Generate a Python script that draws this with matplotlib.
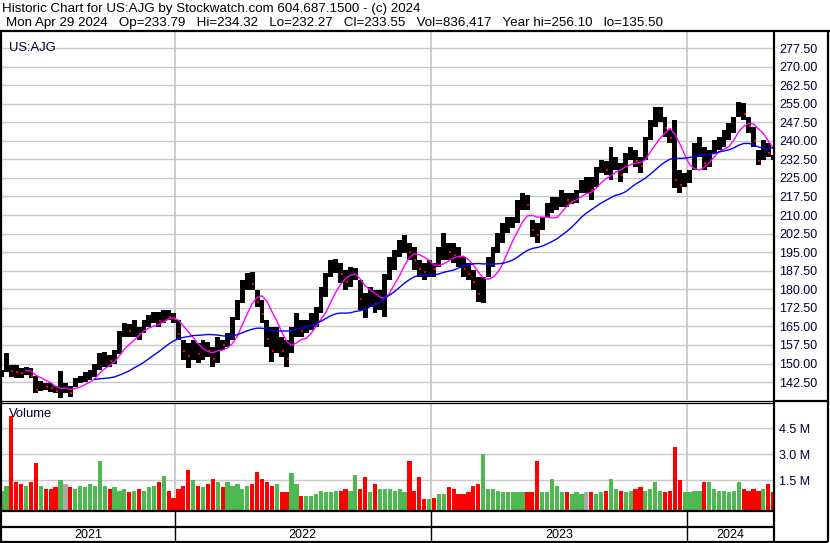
import numpy as np
import pandas as pd
import matplotlib
matplotlib.use("Agg")
import matplotlib.pyplot as plt
import matplotlib.dates as mdates
from matplotlib.lines import Line2D

plt.rcParams['font.family'] = ['Liberation Sans', 'DejaVu Sans']

# ---------------- data (weekly) ----------------
week_start = pd.date_range('2021-04-26', periods=158, freq='W-MON')

highs = [147.5, 154.3, 149.5, 149.5, 148.3, 148.7, 148.3, 145.0, 143.0, 142.0,
         142.0, 141.0, 147.0, 142.0, 141.0, 144.0, 145.0, 146.5, 147.5, 150.0,
         154.3, 154.7, 153.5, 155.5, 163.0, 166.4, 166.0, 167.6, 164.7, 167.6,
         169.6, 170.8, 170.8, 171.6, 171.6, 170.4, 167.6, 159.5, 158.3, 159.5,
         158.3, 159.5, 158.7, 156.7, 160.7, 159.5, 162.3, 168.8, 175.7, 183.7,
         186.6, 187.0, 179.7, 175.7, 167.6, 164.7, 164.7, 160.7, 159.5, 164.7,
         170.4, 167.6, 167.6, 170.4, 172.8, 180.9, 186.6, 191.8, 192.2, 190.6,
         187.8, 189.0, 188.6, 183.7, 178.5, 180.9, 179.7, 179.7, 186.0, 193.0,
         195.9, 199.9, 201.9, 198.7, 197.0, 191.8, 190.6, 191.8, 190.6, 197.0,
         202.7, 198.7, 198.7, 197.0, 193.0, 190.6, 187.8, 185.0, 185.0, 193.0,
         197.0, 202.7, 206.8, 209.2, 209.2, 216.1, 218.9, 218.0, 208.0, 206.8,
         209.2, 214.8, 217.4, 217.4, 220.1, 218.9, 218.9, 220.1, 224.2, 225.4,
         225.4, 229.4, 232.2, 231.8, 237.5, 233.5, 231.0, 235.0, 237.5, 236.3,
         233.5, 241.5, 248.4, 253.7, 253.7, 249.6, 244.4, 248.4, 228.2, 227.0,
         228.2, 239.1, 241.5, 237.5, 236.3, 240.3, 241.5, 244.4, 247.2, 249.6,
         255.7, 255.3, 249.6, 245.6, 236.3, 240.3, 239.1, 234.32]

lows = [144.5, 146.6, 144.6, 144.2, 144.2, 145.4, 144.2, 138.0, 139.0, 139.3,
        138.5, 138.0, 136.0, 138.0, 136.5, 140.5, 142.0, 142.5, 143.3, 144.6,
        147.4, 148.6, 148.6, 150.0, 154.0, 160.7, 160.7, 160.7, 159.5, 162.3,
        164.7, 166.4, 164.7, 166.4, 167.6, 166.4, 159.5, 151.4, 148.2, 151.4,
        150.2, 151.4, 152.6, 148.6, 150.2, 155.5, 156.7, 159.5, 167.6, 174.5,
        179.7, 179.7, 172.8, 166.4, 156.7, 150.6, 154.3, 152.6, 148.6, 154.3,
        160.7, 160.7, 162.3, 163.5, 164.7, 170.4, 176.9, 185.0, 186.6, 182.5,
        179.7, 180.9, 183.7, 171.6, 168.4, 172.8, 170.4, 171.6, 169.0, 183.7,
        187.8, 193.0, 194.7, 191.8, 187.8, 185.0, 183.7, 185.0, 185.0, 189.0,
        191.8, 191.8, 190.6, 189.0, 185.0, 183.7, 179.7, 174.9, 174.5, 185.0,
        189.0, 194.7, 198.7, 202.7, 204.8, 206.8, 212.0, 212.0, 201.1, 198.7,
        204.0, 209.2, 210.8, 212.0, 213.2, 213.2, 214.4, 214.8, 218.9, 218.9,
        216.1, 221.3, 226.9, 226.0, 224.2, 228.2, 223.4, 227.0, 232.2, 229.4,
        227.0, 232.2, 240.3, 245.6, 247.5, 241.5, 239.1, 221.0, 218.9, 221.3,
        223.0, 228.2, 233.5, 228.2, 229.4, 235.0, 236.3, 237.5, 240.3, 243.2,
        249.6, 248.4, 243.2, 237.5, 230.2, 232.2, 233.5, 232.27]

closes = [146.0, 150.0, 147.0, 146.5, 146.0, 147.5, 145.0, 139.5, 141.0, 140.5,
          140.0, 139.0, 140.0, 140.0, 138.0, 142.5, 143.5, 145.0, 146.0, 148.0,
          152.0, 153.0, 151.0, 154.0, 161.0, 164.0, 163.0, 164.0, 162.0, 165.0,
          168.0, 169.0, 167.0, 170.0, 169.0, 168.0, 162.0, 155.0, 153.0, 156.0,
          154.0, 156.0, 155.0, 152.0, 158.0, 157.5, 160.0, 166.0, 173.0, 180.0,
          184.0, 182.0, 175.0, 170.0, 160.0, 155.0, 162.0, 155.0, 152.0, 160.0,
          166.0, 163.0, 165.0, 167.0, 169.0, 177.0, 183.0, 188.0, 189.0, 186.0,
          183.0, 185.0, 186.0, 176.0, 172.0, 177.0, 174.0, 176.0, 183.0, 190.0,
          193.0, 197.0, 199.0, 195.0, 192.0, 188.0, 187.0, 189.0, 188.0, 194.0,
          196.0, 195.0, 194.0, 193.0, 188.0, 186.0, 183.0, 178.0, 180.0, 189.0,
          193.0, 199.0, 203.0, 206.0, 207.0, 212.0, 216.0, 214.0, 204.0, 202.0,
          207.0, 212.0, 214.0, 215.0, 217.0, 216.0, 217.0, 218.0, 222.0, 222.0,
          220.0, 226.0, 230.0, 228.0, 229.0, 231.0, 226.0, 233.0, 235.0, 232.0,
          230.0, 238.0, 245.0, 250.0, 251.0, 245.0, 241.0, 224.0, 222.0, 224.0,
          226.0, 235.0, 238.0, 231.0, 233.0, 238.0, 239.0, 241.0, 244.0, 247.0,
          253.0, 251.0, 246.0, 240.0, 232.0, 236.0, 235.0, 233.55]

volumes_m = [0.9, 1.2, 5.2, 1.4, 1.3, 1.2, 1.4, 2.5, 1.2, 1.0,
             1.0, 1.1, 1.5, 1.3, 1.1, 1.0, 1.2, 1.1, 1.3, 1.2,
             2.6, 1.2, 1.0, 1.1, 0.9, 1.0, 0.8, 0.9, 1.0, 0.9,
             1.1, 1.2, 1.4, 1.75, 0.9, 0.5, 1.0, 1.2, 2.1, 1.5,
             1.2, 1.1, 1.3, 1.6, 1.4, 1.1, 1.4, 1.2, 1.3, 1.0,
             1.2, 1.3, 2.0, 1.6, 1.4, 1.2, 1.3, 0.8, 0.8, 1.9,
             1.3, 0.6, 0.6, 0.6, 0.7, 0.9, 0.8, 0.8, 0.9, 0.9,
             1.0, 0.9, 1.8, 1.0, 1.7, 0.8, 1.3, 1.0, 1.0, 1.0,
             0.9, 1.0, 0.8, 2.6, 0.9, 1.7, 0.45, 0.45, 0.5, 0.7,
             0.7, 1.1, 1.0, 0.7, 0.7, 0.8, 1.2, 1.3, 3.0, 1.0,
             1.0, 0.9, 0.85, 0.8, 0.85, 0.8, 0.8, 0.8, 0.8, 2.6,
             0.8, 0.8, 1.6, 1.2, 0.8, 0.8, 0.7, 0.8, 0.7, 0.8,
             0.8, 0.7, 0.8, 0.9, 1.6, 1.0, 0.9, 0.8, 0.9, 1.0,
             1.1, 0.9, 1.0, 1.4, 0.9, 0.8, 0.9, 3.4, 1.5, 0.8,
             0.8, 0.9, 0.9, 1.4, 1.4, 1.0, 0.9, 0.9, 0.8, 0.9,
             1.4, 1.0, 0.9, 1.0, 0.9, 1.0, 1.3, 0.8]

price_ticks = [142.5, 150.0, 157.5, 165.0, 172.5, 180.0, 187.5, 195.0, 202.5, 210.0,
               217.5, 225.0, 232.5, 240.0, 247.5, 255.0, 262.5, 270.0, 277.5]
vol_ticks = [1.5, 3.0, 4.5]
vol_tick_labels = ['1.5 M', '3.0 M', '4.5 M']
years = [2021, 2022, 2023, 2024]

title1 = "Historic Chart for US:AJG by Stockwatch.com 604.687.1500 - (c) 2024"
title2 = ("Mon Apr 29 2024   Op=233.79   Hi=234.32   Lo=232.27   Cl=233.55   "
          "Vol=836,417   Year hi=256.10   lo=135.50")

# ---------------- figure ----------------
W, H = 830, 543
fig = plt.figure(figsize=(W / 100, H / 100), dpi=100)
fig.patch.set_facecolor('white')


def rect(x0, y0, x1, y1):
    return [x0 / W, 1 - y1 / H, (x1 - x0) / W, (y1 - y0) / H]


def fline(x0, y0, x1, y1, lw=1.0, color='black'):
    fig.add_artist(Line2D([x0 / W, x1 / W], [1 - y0 / H, 1 - y1 / H],
                          transform=fig.transFigure, lw=lw, color=color,
                          solid_capstyle='butt'))


GRID = '#c8c8c8'
NAVY = '#000033'
xlim = (mdates.date2num(pd.Timestamp('2021-04-30 05:00')),
        mdates.date2num(pd.Timestamp('2024-05-03 17:00')))

x = mdates.date2num(week_start) + 3.5
hi = np.array(highs)
lo = np.array(lows)
cl = np.array(closes)
vol = np.array(volumes_m)
chg = np.diff(cl, prepend=cl[0])

year_bounds = [mdates.date2num(pd.Timestamp(f'{y}-01-01')) for y in years[1:]]

# ---- price panel ----
ax = fig.add_axes(rect(2, 31, 774, 400))
ax.set_xlim(*xlim)
ax.set_ylim(135.26, 284.37)
for t in price_ticks:
    ax.axhline(t, color=GRID, lw=1.0, zorder=0)
for b in year_bounds:
    ax.axvline(b, color=GRID, lw=1.3, zorder=0)
ax.bar(x, hi - lo, bottom=lo, width=7.0, color='black', linewidth=0, zorder=2)
down = chg < 0
ax.plot(x[down] + 1.5, cl[down], linestyle='none', marker='s', markersize=2.0,
        color='red', markeredgewidth=0, zorder=3)
s = pd.Series(cl)
ax.plot(x, s.rolling(6).mean(), color='#ff00ff', lw=1.0, zorder=4)
ax.plot(x, s.rolling(20).mean(), color='#0000ff', lw=1.0, zorder=4)
ax.set_xticks([])
ax.yaxis.tick_right()
ax.set_yticks(price_ticks)
ax.set_yticklabels([f'{t:.2f}' for t in price_ticks])
ax.tick_params(axis='y', length=0, pad=3.8, labelsize=9, labelcolor=NAVY)
for sp in ax.spines.values():
    sp.set_visible(False)
ax.text(0.009, 0.97, 'US:AJG', transform=ax.transAxes, fontsize=9.4,
        color=NAVY, ha='left', va='top')

# ---- volume panel ----
av = fig.add_axes(rect(2, 403, 774, 510))
av.set_xlim(*xlim)
vb = -0.213
av.set_ylim(vb, 5.96)
for t in vol_ticks:
    av.axhline(t, color=GRID, lw=1.0, zorder=0)
for b in year_bounds:
    av.axvline(b, color=GRID, lw=1.3, zorder=0)
vcol = np.where(chg > 0, '#50b850', np.where(chg < 0, '#ff0000', '#aaaaaa'))
vcol[0] = '#50b850'
av.bar(x, vol - vb, bottom=vb, width=6.0, color=vcol, linewidth=0, zorder=2)
av.set_xticks([])
av.yaxis.tick_right()
av.set_yticks(vol_ticks)
av.set_yticklabels(vol_tick_labels)
av.tick_params(axis='y', length=0, pad=3.5, labelsize=9, labelcolor=NAVY)
for sp in av.spines.values():
    sp.set_visible(False)
av.text(0.009, 0.95, 'Volume', transform=av.transAxes, fontsize=9.4,
        color=NAVY, ha='left', va='top')

# ---- date band ----
ad = fig.add_axes(rect(2, 510, 774, 541))
ad.set_xlim(*xlim)
ad.set_ylim(0, 1)
ad.axis('off')
for b in year_bounds:
    ad.axvline(b, color='black', lw=1.0)
edges = [xlim[0]] + year_bounds + [xlim[1]]
for k, y in enumerate(years):
    ad.text((edges[k] + edges[k + 1]) / 2, 0.19, str(y), ha='center',
            va='center', fontsize=9, color='black')

# ---- frame lines ----
fline(0, 30.5, 830, 30.5, lw=1.6)          # header separator
fline(1, 30, 1, 542, lw=1.6)               # left border
fline(774, 30, 774, 542, lw=1.6)           # axis divider
fline(827.5, 30, 827.5, 542, lw=1.6)       # right border
fline(0, 400.5, 774, 400.5, lw=0.9)        # double line under price
fline(0, 402.5, 774, 402.5, lw=0.9)
fline(774, 401, 828, 401, lw=1.6)
fline(0, 510.5, 774, 510.5, lw=1.6)        # under volume
fline(0, 526.5, 774, 526.5, lw=1.6)        # date band middle
fline(0, 541.5, 828, 541.5, lw=1.6)        # bottom

# ---- header text ----
fig.text(2 / W, 1 - 9 / H, title1, fontsize=9.6, color='black', ha='left', va='center')
fig.text(6 / W, 1 - 23 / H, title2, fontsize=9.6, color='black', ha='left', va='center')

fig.savefig('out.png', dpi=100)
